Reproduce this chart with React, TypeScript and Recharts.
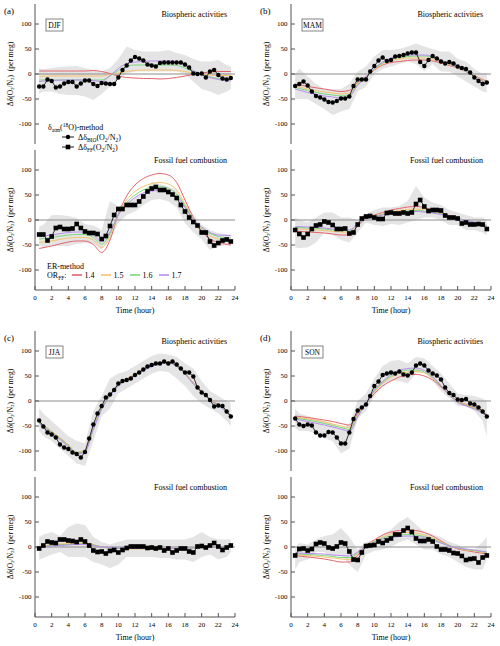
import React from "react";
import { ComposedChart, Line, Area, XAxis, YAxis, ReferenceLine } from "recharts";

// time axes
const HOURS = [
  0.5, 1, 1.5, 2, 2.5, 3, 3.5, 4, 4.5, 5, 5.5, 6, 6.5, 7, 7.5, 8, 8.5, 9, 9.5, 10, 10.5, 11, 11.5, 12,
  12.5, 13, 13.5, 14, 14.5, 15, 15.5, 16, 16.5, 17, 17.5, 18, 18.5, 19, 19.5, 20, 20.5, 21, 21.5, 22,
  22.5, 23, 23.5,
];
const LINE_HOURS = [0.5, 2, 4, 5, 6, 7, 8, 9, 10, 11, 12, 13, 14, 15, 16, 17, 18, 19, 20, 21, 22, 23.5];
const BAND_HOURS = [0.5, 1, 2, 3, 4, 5, 6, 7, 8, 9, 10, 11, 12, 13, 14, 15, 16, 17, 18, 19, 20, 21, 22, 23, 23.5];
const X_TICKS = [0, 2, 4, 6, 8, 10, 12, 14, 16, 18, 20, 22, 24];
const Y_TICKS = [-100, -50, 0, 50, 100];
const OR_FF = ["1.4", "1.5", "1.6", "1.7"];
const OR_COLORS = ["#e5646c", "#f6c46c", "#7cd87c", "#b98df1"];

// DJF
const djfBioObs = [-25, -25, -11, -14, -27, -25, -19, -16, -16, -25, -19, -13, -13, -20, -24, -18, -19, -20, -20, -7, 8, 17, 27, 34, 31, 27, 19, 17, 15, 22, 23, 23, 23, 23, 23, 19, 13, 1, 0, 1, -7, 5, 8, -2, -9, -11, -8];
const djfBioHi = [11, 10, 12, 14, 15, 16, 12, 8, 5, 12, 30, 55, 48, 45, 45, 45, 48, 42, 38, 30, 25, 25, 28, 18, 15];
const djfBioLo = [-39, -35, -35, -40, -42, -42, -45, -52, -40, -25, -10, 1, 5, 5, 5, 5, 5, 5, 0, -15, -30, -35, -42, -35, -30];
const djfBioOr14 = [6, 6, 6, 6, 6, 7, 5, 1, -4, -7, -8, -9, -9, -10, -9, -7, -4, -1, 2, 4, 5, 5];
const djfBioOr15 = [-5, -4, -4, -4, -4, -4, -4, -1, 2, 5, 7, 8, 8, 8, 8, 7, 5, 2, 0, -2, -3, -3];
const djfBioOr16 = [-12, -12, -12, -12, -12, -12, -12, -4, 7, 15, 18, 18, 18, 18, 18, 17, 12, 5, -1, -6, -9, -11];
const djfBioOr17 = [-15, -13, -12, -12, -12, -13, -15, -3, 11, 21, 24, 25, 26, 26, 26, 24, 17, 7, -1, -7, -11, -14];

const djfFfObs = [-29, -29, -41, -33, -16, -14, -18, -18, -17, -8, -16, -23, -26, -26, -28, -38, -32, -12, 10, 22, 22, 30, 30, 30, 37, 47, 57, 63, 66, 60, 60, 56, 51, 44, 30, 17, 5, -4, -11, -25, -25, -43, -51, -46, -41, -39, -43];
const djfFfHi = [-13, -10, 10, 10, 8, 4, -8, -11, -20, 38, 27, 35, 44, 55, 77, 72, 67, 60, 31, 10, -9, -20, -26, -28, -30];
const djfFfLo = [-50, -55, -52, -52, -52, -48, -46, -48, -59, -40, -6, 10, 17, 30, 40, 42, 37, 25, -6, -25, -39, -60, -53, -50, -52];
const djfFfOr14 = [-57, -52, -44, -42, -42, -49, -65, -40, 12, 48, 70, 83, 90, 93, 90, 75, 40, 5, -22, -38, -45, -50];
const djfFfOr15 = [-45, -42, -36, -35, -35, -40, -55, -32, 11, 40, 57, 67, 73, 75, 72, 60, 32, 3, -18, -32, -38, -41];
const djfFfOr16 = [-38, -35, -30, -29, -29, -35, -48, -27, 11, 35, 50, 60, 65, 67, 63, 52, 28, 2, -16, -27, -33, -36];
const djfFfOr17 = [-33, -30, -25, -24, -24, -30, -43, -24, 10, 31, 45, 54, 58, 59, 56, 47, 25, 1, -14, -25, -30, -31];

// MAM
const mamBioObs = [-24, -20, -15, -23, -35, -44, -47, -51, -56, -57, -54, -49, -49, -45, -24, -11, -11, -11, 5, 16, 27, 33, 26, 28, 35, 36, 38, 41, 43, 43, 24, 16, 28, 36, 31, 25, 21, 24, 21, 15, 12, 10, 3, -7, -14, -20, -17];
const mamBioHi = [0, 11, -5, -20, -30, -30, -30, -20, 5, 15, 35, 48, 48, 50, 55, 61, 55, 50, 45, 45, 30, 25, 10, 0, 3];
const mamBioLo = [-50, -50, -50, -60, -70, -82, -75, -70, -35, -25, 0, 10, 15, 20, 25, 20, 5, 20, 5, 5, -5, -15, -25, -35, -37];
const mamBioOr14 = [-20, -25, -30, -33, -35, -33, -17, -5, 8, 18, 23, 25, 27, 28, 28, 26, 22, 17, 12, 5, -3, -15];
const mamBioOr15 = [-24, -30, -36, -38, -40, -38, -19, -6, 9, 20, 27, 30, 32, 32, 32, 30, 25, 19, 12, 5, -3, -17];
const mamBioOr16 = [-27, -33, -40, -42, -44, -42, -21, -6, 10, 22, 30, 33, 35, 36, 36, 33, 26, 20, 13, 5, -4, -19];
const mamBioOr17 = [-30, -37, -44, -46, -48, -45, -23, -6, 11, 24, 32, 36, 38, 38, 38, 35, 28, 21, 13, 5, -4, -21];

const mamFfObs = [-20, -28, -35, -28, -18, -11, -9, -3, -5, -10, -18, -18, -17, -27, -25, -9, 3, 7, 8, 5, 2, 2, 14, 15, 13, 13, 15, 13, 15, 32, 40, 27, 18, 20, 20, 19, 9, 5, 5, 3, -7, -5, -9, -9, -8, -9, -18];
const mamFfHi = [5, 0, -5, 5, 15, 15, 5, 5, 0, 12, 20, 25, 25, 28, 38, 68, 45, 35, 30, 20, 15, 10, 5, 5, 0];
const mamFfLo = [-55, -56, -55, -45, -25, -30, -40, -45, -25, -5, -10, -12, -8, -10, -5, 0, 5, 5, 0, -10, -10, -20, -20, -25, -30];
const mamFfOr14 = [-22, -24, -26, -28, -30, -30, -12, 2, 10, 15, 20, 23, 26, 27, 25, 20, 15, 9, 3, -2, -6, -15];
const mamFfOr15 = [-17, -19, -21, -23, -24, -25, -10, 2, 8, 12, 16, 19, 21, 22, 21, 17, 13, 8, 3, -2, -5, -13];
const mamFfOr16 = [-15, -16, -18, -20, -21, -22, -9, 2, 7, 11, 14, 16, 18, 19, 18, 15, 12, 7, 3, -2, -5, -12];
const mamFfOr17 = [-13, -14, -16, -18, -19, -20, -8, 2, 6, 10, 13, 15, 16, 17, 16, 14, 11, 7, 3, -1, -4, -11];

// JJA
const jjaBioObs = [-39, -51, -63, -67, -73, -87, -93, -96, -103, -106, -113, -102, -75, -47, -25, -10, 7, 13, 22, 35, 40, 42, 45, 52, 57, 63, 69, 72, 75, 75, 79, 75, 79, 73, 65, 57, 57, 49, 27, 17, 12, 2, -11, -9, -10, -21, -31];
const jjaBioHi = [-15, -25, -40, -55, -70, -80, -85, -20, 10, 45, 55, 60, 70, 80, 90, 95, 93, 88, 75, 65, 40, 20, 10, 0, -5];
const jjaBioLo = [-60, -70, -80, -95, -110, -125, -130, -80, -30, -15, 15, 25, 35, 45, 55, 60, 58, 45, 30, 10, -5, -15, -25, -40, -50];
const jjaBioOr14 = [-42, -61, -88, -103, -99, -54, -14, 13, 33, 44, 53, 63, 71, 76, 78, 71, 56, 36, 20, 3, -7, -29];
const jjaBioOr15 = [-42, -61, -88, -103, -98, -53, -14, 13, 33, 44, 53, 63, 71, 76, 78, 71, 56, 36, 20, 3, -7, -29];
const jjaBioOr16 = [-43, -62, -89, -104, -100, -55, -15, 12, 32, 43, 52, 62, 70, 75, 77, 70, 55, 35, 19, 2, -8, -30];
const jjaBioOr17 = [-45, -64, -91, -106, -102, -57, -17, 10, 30, 42, 51, 61, 69, 75, 76, 69, 54, 34, 18, 1, -9, -31];

const jjaFfObs = [-3, 3, 11, 9, 8, 15, 15, 13, 12, 10, 15, 11, 3, -7, -10, -9, -13, -8, -6, -11, -6, -2, 1, 1, 1, 1, -2, -1, -3, -1, -7, -3, -11, -7, -3, -3, -9, -11, 1, 2, -1, 3, 8, 1, -6, -1, 3];
const jjaFfHi = [20, 25, 30, 22, 40, 47, 44, 20, 10, 5, 10, 15, 15, 15, 15, 15, 15, 15, 15, 20, 30, 20, 15, 15, 15];
const jjaFfLo = [-25, -22, -15, -10, -20, -20, -20, -30, -35, -42, -35, -20, -20, -20, -20, -22, -22, -25, -25, -30, -20, -15, -25, -20, -10];
const jjaFfOr14 = [0, 3, 5, 6, 6, 4, 0, -2, -3, -3, -3, -3, -3, -3, -3, -3, -2, -2, -1, -1, 0, 1];
const jjaFfOr15 = [1, 5, 7, 8, 8, 5, 0, -2, -3, -4, -4, -4, -4, -4, -4, -3, -3, -2, -1, -1, 0, 1];
const jjaFfOr16 = [0, 3, 5, 6, 6, 4, 0, -2, -3, -3, -3, -3, -3, -3, -3, -3, -2, -2, -1, 0, 0, 1];
const jjaFfOr17 = [-1, 2, 4, 5, 5, 3, 0, -1, -2, -2, -3, -3, -3, -3, -3, -3, -2, -2, -1, 0, 0, 1];

// SON
const sonBioObs = [-35, -47, -50, -47, -49, -63, -69, -69, -62, -63, -73, -85, -85, -63, -36, -19, -13, -7, 10, 30, 39, 52, 55, 57, 55, 59, 53, 51, 57, 71, 75, 71, 61, 55, 51, 43, 27, 16, 12, 3, 2, 4, -5, -7, -13, -21, -31];
const sonBioHi = [-15, -25, -30, -35, -40, -45, -55, -45, 0, 15, 45, 70, 80, 82, 75, 88, 85, 70, 55, 35, 15, 12, 10, 5, 0];
const sonBioLo = [-55, -60, -60, -65, -75, -80, -105, -95, -35, -20, 10, 30, 40, 40, 35, 55, 60, 40, 20, 5, -10, -10, -20, -40, -70];
const sonBioOr14 = [-30, -33, -38, -41, -45, -48, -25, -4, 15, 30, 40, 48, 52, 53, 50, 42, 28, 12, 0, -7, -13, -27];
const sonBioOr15 = [-32, -36, -42, -46, -50, -53, -28, -4, 18, 35, 47, 55, 58, 59, 56, 45, 30, 12, -1, -8, -14, -28];
const sonBioOr16 = [-34, -38, -45, -49, -53, -57, -30, -4, 20, 37, 50, 58, 62, 62, 58, 47, 30, 12, -2, -9, -15, -29];
const sonBioOr17 = [-36, -41, -48, -52, -56, -61, -32, -4, 22, 39, 53, 61, 65, 66, 61, 49, 31, 12, -3, -10, -16, -30];

const sonFfObs = [-17, -4, -3, -7, -4, 6, 9, 7, -1, -3, 1, 9, 7, -9, -25, -26, -11, 2, 3, 4, 11, 8, 13, 17, 25, 25, 33, 38, 30, 17, 12, 12, 15, 11, 1, -5, -5, -7, -12, -13, -18, -26, -24, -23, -31, -21, -17];
const sonFfHi = [0, 8, 5, 15, 22, 25, 38, 20, -5, 10, 15, 25, 35, 50, 60, 45, 30, 25, 20, 10, 5, -5, -5, 10, 20];
const sonFfLo = [-45, -30, -25, -10, -10, -20, -15, -35, -50, -15, -8, -5, 0, 10, 15, 5, -5, -5, -15, -20, -30, -40, -45, -45, -25];
const sonFfOr14 = [-17, -20, -24, -27, -30, -30, -17, 3, 14, 24, 30, 33, 34, 33, 29, 22, 12, 3, -4, -7, -10, -14];
const sonFfOr15 = [-15, -17, -20, -22, -24, -25, -14, 3, 12, 20, 26, 28, 29, 28, 24, 18, 10, 3, -3, -6, -8, -12];
const sonFfOr16 = [-13, -15, -17, -19, -21, -21, -12, 3, 10, 18, 22, 24, 25, 24, 21, 16, 9, 3, -2, -5, -7, -11];
const sonFfOr17 = [-12, -13, -14, -16, -17, -18, -10, 2, 9, 16, 19, 21, 22, 21, 19, 14, 8, 2, -2, -4, -6, -10];

const SERIF = '"Liberation Serif", "Times New Roman", serif';
const AXIS = "#555";
const BAND = "#e4e4e4";
const ZERO = "#8c8c8c";

const COL_LEFT = [0, 256];
const COL_WIDTH = [250, 243];
const COL_MR = [15, 8];
const ROW_TOP = [0, 327];
const PLOT_TOP = 4;
const PLOT_H = 140;
const YW = 35;
const BOX_W: Record<string, number> = { DJF: 17, MAM: 21, JJA: 17, SON: 21 };

type PanelDef = {
  letter: string;
  season: string;
  bio: boolean;
  col: number;
  row: number;
  obs: number[];
  hi: number[];
  lo: number[];
  or: number[][];
};

const panels: PanelDef[] = [
  { letter: "(a)", season: "DJF", bio: true, col: 0, row: 0, obs: djfBioObs, hi: djfBioHi, lo: djfBioLo, or: [djfBioOr14, djfBioOr15, djfBioOr16, djfBioOr17] },
  { letter: "", season: "", bio: false, col: 0, row: 0, obs: djfFfObs, hi: djfFfHi, lo: djfFfLo, or: [djfFfOr14, djfFfOr15, djfFfOr16, djfFfOr17] },
  { letter: "(b)", season: "MAM", bio: true, col: 1, row: 0, obs: mamBioObs, hi: mamBioHi, lo: mamBioLo, or: [mamBioOr14, mamBioOr15, mamBioOr16, mamBioOr17] },
  { letter: "", season: "", bio: false, col: 1, row: 0, obs: mamFfObs, hi: mamFfHi, lo: mamFfLo, or: [mamFfOr14, mamFfOr15, mamFfOr16, mamFfOr17] },
  { letter: "(c)", season: "JJA", bio: true, col: 0, row: 1, obs: jjaBioObs, hi: jjaBioHi, lo: jjaBioLo, or: [jjaBioOr14, jjaBioOr15, jjaBioOr16, jjaBioOr17] },
  { letter: "", season: "", bio: false, col: 0, row: 1, obs: jjaFfObs, hi: jjaFfHi, lo: jjaFfLo, or: [jjaFfOr14, jjaFfOr15, jjaFfOr16, jjaFfOr17] },
  { letter: "(d)", season: "SON", bio: true, col: 1, row: 1, obs: sonBioObs, hi: sonBioHi, lo: sonBioLo, or: [sonBioOr14, sonBioOr15, sonBioOr16, sonBioOr17] },
  { letter: "", season: "", bio: false, col: 1, row: 1, obs: sonFfObs, hi: sonFfHi, lo: sonFfLo, or: [sonFfOr14, sonFfOr15, sonFfOr16, sonFfOr17] },
];

const squareDot = (props: any) => {
  const { cx, cy, index } = props;
  if (cx == null || cy == null) return <g key={`sq-${index}`} />;
  return <rect key={`sq-${index}`} x={cx - 2.3} y={cy - 2.3} width={4.6} height={4.6} fill="#000" />;
};

function YLabel({ cx, cy }: { cx: number; cy: number }) {
  return (
    <text transform={`rotate(-90 ${cx} ${cy})`} x={cx} y={cy} textAnchor="middle" dominantBaseline="central"
      fontSize={7.5} fill="#000" fontFamily={SERIF}>
      Δδ(O<tspan fontSize={5} dy={1.5}>2</tspan>
      <tspan dy={-1.5}>/N</tspan>
      <tspan fontSize={5} dy={1.5}>2</tspan>
      <tspan dy={-1.5}>){"\u00a0 "}(per meg)</tspan>
    </text>
  );
}

function IsotopeLegend() {
  const x0 = 48;
  return (
    <g fontSize={8} fill="#000" fontFamily={SERIF}>
      <text x={x0} y={130}>
        δ<tspan fontSize={5.5} dy={1.5}>atm</tspan>
        <tspan dy={-1.5}>(</tspan>
        <tspan fontSize={5.5} dy={-3}>18</tspan>
        <tspan dy={3}>O)-method</tspan>
      </text>
      <line x1={62} x2={74} y1={137} y2={137} stroke="#000" strokeWidth={0.9} />
      <circle cx={68} cy={137} r={2.2} fill="#000" />
      <text x={78} y={140}>
        Δδ<tspan fontSize={5.5} dy={1.5}>BIO</tspan>
        <tspan dy={-1.5}>(O</tspan>
        <tspan fontSize={5.5} dy={1.5}>2</tspan>
        <tspan dy={-1.5}>/N</tspan>
        <tspan fontSize={5.5} dy={1.5}>2</tspan>
        <tspan dy={-1.5}>)</tspan>
      </text>
      <line x1={62} x2={74} y1={147} y2={147} stroke="#000" strokeWidth={0.9} />
      <rect x={65.7} y={144.7} width={4.6} height={4.6} fill="#000" />
      <text x={78} y={150}>
        Δδ<tspan fontSize={5.5} dy={1.5}>FF</tspan>
        <tspan dy={-1.5}>(O</tspan>
        <tspan fontSize={5.5} dy={1.5}>2</tspan>
        <tspan dy={-1.5}>/N</tspan>
        <tspan fontSize={5.5} dy={1.5}>2</tspan>
        <tspan dy={-1.5}>)</tspan>
      </text>
    </g>
  );
}

function ErLegend() {
  return (
    <g fontSize={8} fill="#000" fontFamily={SERIF}>
      <text x={47} y={123}>ER-method</text>
      <text x={47} y={132}>
        OR<tspan fontSize={5.5} dy={1.5}>FF</tspan>
        <tspan dy={-1.5}>:</tspan>
      </text>
      {OR_FF.map((lab, i) => (
        <g key={lab}>
          <line x1={72 + i * 29} x2={82 + i * 29} y1={129} y2={129} stroke={OR_COLORS[i]} strokeWidth={1.6} />
          <text x={84.5 + i * 29} y={132}>{lab}</text>
        </g>
      ))}
    </g>
  );
}

function Panel({ p }: { p: PanelDef }) {
  const left = COL_LEFT[p.col];
  const width = COL_WIDTH[p.col];
  const mr = COL_MR[p.col];
  const top = p.bio ? ROW_TOP[p.row] : ROW_TOP[p.row] + 146;
  const xAxisH = p.bio ? 0 : 28;
  const height = PLOT_TOP + PLOT_H + (p.bio ? 8 : xAxisH);
  const plotRight = width - mr;
  const tickFont = { fontSize: 7, fill: "#000", fontFamily: SERIF };

  const obsData = HOURS.map((h, i) => ({ h, v: p.obs[i] }));
  const lineData = LINE_HOURS.map((h, i) => ({ h, a: p.or[0][i], b: p.or[1][i], c: p.or[2][i], d: p.or[3][i] }));
  const bandData = BAND_HOURS.map((h, i) => ({ h, band: [p.lo[i], p.hi[i]] }));
  const keys = ["a", "b", "c", "d"];

  return (
    <div style={{ position: "absolute", left, top }}>
      <ComposedChart width={width} height={height} margin={{ top: PLOT_TOP, right: mr, bottom: p.bio ? 8 : 0, left: 0 }}>
        {p.bio ? (
          <XAxis dataKey="h" type="number" domain={[0, 24]} ticks={X_TICKS} orientation="top" height={0}
            tick={false} tickSize={-4} stroke={AXIS} allowDataOverflow />
        ) : (
          <XAxis dataKey="h" type="number" domain={[0, 24]} ticks={X_TICKS} orientation="bottom" height={xAxisH}
            tickSize={-4} tickMargin={9.5} stroke={AXIS} tick={tickFont} interval={0} allowDataOverflow
            label={{ value: "Time  (hour)", position: "insideBottom", offset: 5, fontSize: 8, fill: "#000", fontFamily: SERIF }} />
        )}
        <YAxis type="number" domain={[-140, 140]} ticks={Y_TICKS} width={YW} tickSize={-4} tickMargin={7.5}
          stroke={AXIS} tick={tickFont} interval={0} allowDataOverflow />
        <YAxis yAxisId="r" orientation="right" type="number" domain={[-140, 140]} ticks={Y_TICKS} width={0}
          tickSize={-4} tick={false} stroke={AXIS} interval={0} allowDataOverflow />
        <Area data={bandData} dataKey="band" type="linear" stroke="none" fill={BAND} fillOpacity={1} isAnimationActive={false} />
        <ReferenceLine y={0} stroke={ZERO} strokeWidth={1} />
        {keys.map((k, i) => (
          <Line key={k} data={lineData} dataKey={k} type="monotone" stroke={OR_COLORS[i]} strokeWidth={1} dot={false} isAnimationActive={false} />
        ))}
        <Line data={obsData} dataKey="v" type="linear" stroke="#000" strokeWidth={0.8}
          dot={p.bio ? { r: 2.2, fill: "#000", stroke: "none" } : squareDot} isAnimationActive={false} />

        <YLabel cx={10} cy={PLOT_TOP + PLOT_H / 2} />
        <text x={plotRight - 8} y={PLOT_TOP + 13} textAnchor="end" fontSize={8} fill="#000" fontFamily={SERIF}>
          {p.bio ? "Biospheric activities" : "Fossil fuel combustion"}
        </text>
        {p.bio && (
          <g fontFamily={SERIF}>
            <text x={YW - 31} y={PLOT_TOP + 10} fontSize={9} fill="#000">{p.letter}</text>
            <rect x={YW + 11} y={PLOT_TOP + 15} width={BOX_W[p.season]} height={12} fill="#fff" stroke="#666" strokeWidth={0.8} />
            <text x={YW + 11 + BOX_W[p.season] / 2} y={PLOT_TOP + 24} textAnchor="middle" fontSize={7.5} fill="#000">{p.season}</text>
          </g>
        )}
        {p.bio && p.col === 0 && p.row === 0 && <IsotopeLegend />}
        {!p.bio && p.col === 0 && p.row === 0 && <ErLegend />}
      </ComposedChart>
    </div>
  );
}

export default function App() {
  return (
    <div style={{ position: "absolute", left: 0, top: 0, width: 500, height: 646, overflow: "hidden", background: "#fff", fontFamily: SERIF }}>
      {panels.map((p, i) => (
        <Panel key={i} p={p} />
      ))}
    </div>
  );
}
